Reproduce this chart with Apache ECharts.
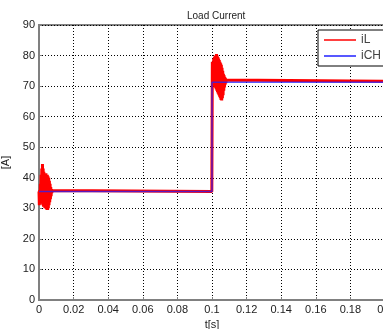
<!DOCTYPE html>
<html>
<head>
<meta charset="utf-8">
<script src="https://cdn.jsdelivr.net/npm/echarts@6/dist/echarts.min.js"></script>
<style>
  html, body { margin: 0; padding: 0; background: #fff; }
  #chart { width: 383px; height: 329px; }
</style>
</head>
<body>
<div id="chart"></div>
<script>
// start-up transient of iL (t in s, current in A)
const tBurst1 = [0, 0.0002, 0.0004, 0.0006, 0.0008, 0.0010, 0.0012, 0.0014, 0.0016, 0.0018,
  0.0020, 0.0022, 0.0024, 0.0026, 0.0028, 0.0030, 0.0032, 0.0034, 0.0036, 0.0038,
  0.0040, 0.0042, 0.0044, 0.0046, 0.0048, 0.0050, 0.0052, 0.0054, 0.0056, 0.0058,
  0.0060, 0.0062, 0.0064, 0.0066, 0.0068, 0.0070, 0.0072, 0.0074, 0.0076, 0.0078, 0.0080];
const iLBurst1 = [35.5, 31, 36, 32, 38, 32, 41, 31.5, 43, 31.5,
  44.5, 31, 43, 30.5, 42, 30.5, 41.5, 30, 41.5, 30,
  41.5, 29.8, 41, 29.5, 41, 29.5, 40.5, 30, 40, 31,
  39, 32, 38, 33, 37, 34, 36.3, 35, 35.8, 35.3, 35.5];

// load step transient of iL
const tBurst2 = [0.1000, 0.1002, 0.1004, 0.1006, 0.1008, 0.1010, 0.1012, 0.1014, 0.1016, 0.1018,
  0.1020, 0.1022, 0.1024, 0.1026, 0.1028, 0.1030, 0.1032, 0.1034, 0.1036, 0.1038,
  0.1040, 0.1042, 0.1044, 0.1046, 0.1048, 0.1050, 0.1052, 0.1054, 0.1056, 0.1058,
  0.1060, 0.1062, 0.1064, 0.1066, 0.1068, 0.1070, 0.1072, 0.1074, 0.1076, 0.1078,
  0.1080, 0.1082, 0.1084, 0.1086];
const iLBurst2 = [35.5, 78, 71, 77, 71.5, 79, 70.5, 79.5, 70, 80,
  69.5, 80, 69, 80.5, 68.5, 80, 68, 79.5, 67.5, 79,
  67, 78.5, 66.5, 78, 66, 77.5, 65.5, 77, 65.3, 76,
  66, 75, 67, 74, 68.5, 73.5, 69.5, 73, 70.5, 72.5,
  71, 72, 71.6, 71.6];

const tEnd = 0.2;
const iLSteady = [35.5, 71.6];

const tCH = [0, 0.1, 0.1, 0.2];
const iCH = [35.5, 35.5, 71.3, 71.3];

const xTicks = [0, 0.02, 0.04, 0.06, 0.08, 0.1, 0.12, 0.14, 0.16, 0.18, 0.2];
const yTicks = [0, 10, 20, 30, 40, 50, 60, 70, 80, 90];

const iLData = []
  .concat(tBurst1.map((t, i) => [t, iLBurst1[i]]))
  .concat([[0.0999, iLSteady[0]]])
  .concat(tBurst2.map((t, i) => [t, iLBurst2[i]]))
  .concat([[tEnd, iLSteady[1]]]);
const iCHData = tCH.map((t, i) => [t, iCH[i]]);

const chart = echarts.init(document.getElementById("chart"));
const labelFont = { color: "#222", fontSize: 11, fontFamily: "Liberation Sans, Arial, sans-serif" };
const dotted = { color: "#000", width: 1, type: [1, 2] };

chart.setOption({
  animation: false,
  backgroundColor: "#fff",
  title: {
    text: "Load Current",
    left: 182,
    top: 6,
    textStyle: { fontSize: 10, fontWeight: "normal", color: "#222", fontFamily: "Liberation Sans, Arial, sans-serif" },
  },
  legend: {
    orient: "vertical",
    left: 318,
    top: 30,
    padding: [4, 14, 4, 6],
    itemGap: 4,
    itemWidth: 32,
    itemHeight: 1.5,
    icon: "rect",
    itemStyle: { borderWidth: 0 },
    borderColor: "#000",
    borderWidth: 1,
    backgroundColor: "#fff",
    textStyle: { ...labelFont, color: "#444", fontSize: 12 },
    data: ["iL", "iCH"],
  },
  grid: {
    left: 39,
    right: -2,
    top: 25,
    bottom: 29,
    outerBoundsMode: "none",
    containLabel: false,
    show: true,
    borderColor: "#808080",
    borderWidth: 2,
  },
  xAxis: {
    type: "value",
    min: xTicks[0],
    max: xTicks[xTicks.length - 1],
    interval: 0.02,
    name: "t[s]",
    nameLocation: "middle",
    nameGap: 16,
    nameTextStyle: labelFont,
    axisLine: { lineStyle: { color: "#808080", width: 2 } },
    axisTick: { inside: true, length: 3, lineStyle: { color: "#808080" } },
    axisLabel: { ...labelFont, margin: 4, formatter: (v) => String(+v.toFixed(2)) },
    splitLine: { show: true, lineStyle: dotted },
  },
  yAxis: {
    type: "value",
    min: yTicks[0],
    max: yTicks[yTicks.length - 1],
    interval: 10,
    name: "[A]",
    nameLocation: "middle",
    nameGap: 24,
    nameTextStyle: labelFont,
    axisLine: { show: true, lineStyle: { color: "#808080", width: 2 } },
    axisTick: { show: true, inside: true, length: 3, lineStyle: { color: "#808080" } },
    axisLabel: { ...labelFont, margin: 4 },
    splitLine: { show: true, lineStyle: dotted },
  },
  series: [
    {
      name: "iL",
      type: "line",
      showSymbol: false,
      color: "#ff0000",
      lineStyle: { color: "#ff0000", width: 3 },
      data: iLData,
    },
    {
      name: "iCH",
      type: "line",
      showSymbol: false,
      color: "#2020ff",
      lineStyle: { color: "#2020ff", width: 1.5, opacity: 0.75 },
      data: iCHData,
    },
  ],
});
</script>
</body>
</html>
